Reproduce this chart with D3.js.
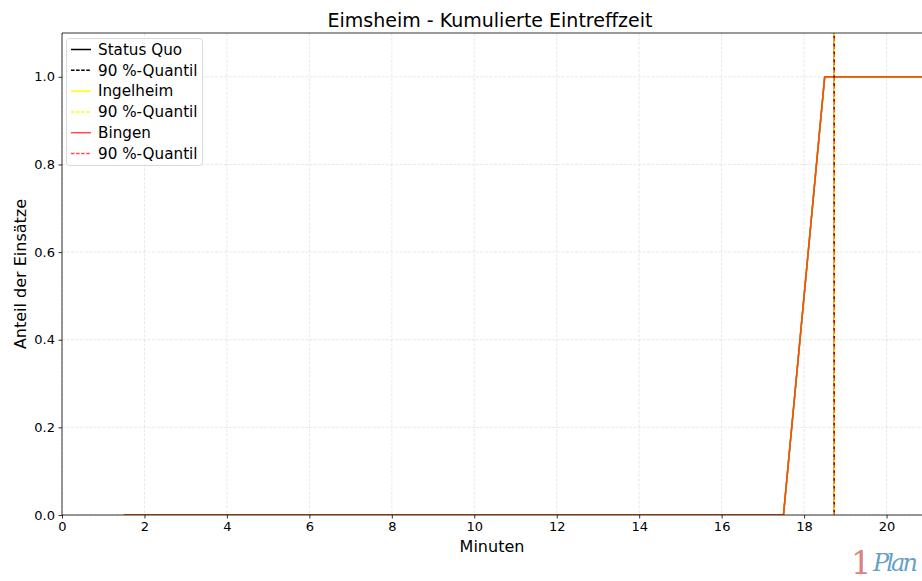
<!DOCTYPE html>
<html><head><meta charset="utf-8">
<script src="https://cdn.jsdelivr.net/npm/d3@7"></script>
<style>body{margin:0;background:#fff;} svg{display:block;font-family:"DejaVu Sans",sans-serif;}</style>
</head><body><svg id="c" width="922" height="581"></svg>
<script>
const xValues = [1.5,2.5,3.5,4.5,5.5,6.5,7.5,8.5,9.5,10.5,11.5,12.5,13.5,14.5,15.5,16.5,17.5,18.5,19.5,20.5,21.5];
const statusQuo = [0,0,0,0,0,0,0,0,0,0,0,0,0,0,0,0,0,1,1,1,1];
const ingelheim = [0,0,0,0,0,0,0,0,0,0,0,0,0,0,0,0,0,1,1,1,1];
const bingen    = [0,0,0,0,0,0,0,0,0,0,0,0,0,0,0,0,0,1,1,1,1];
const quantiles = [18.73, 18.73, 18.73];
const seriesNames = ["Status Quo","Ingelheim","Bingen"];
const xTicks = [0,2,4,6,8,10,12,14,16,18,20];
const yTicks = [0,0.2,0.4,0.6,0.8,1.0];

const svg = d3.select("#c");
const L=62, R=922, T=33, B=515;
const x = d3.scaleLinear().domain([0,20.86]).range([L,R]);
const y = d3.scaleLinear().domain([0,1.1]).range([B,T]);

svg.append("defs").append("clipPath").attr("id","clip").append("rect")
  .attr("x",L).attr("y",T).attr("width",R-L).attr("height",B-T);

// grid
const g = svg.append("g");
g.selectAll(".gx").data(xTicks).join("line")
  .attr("x1",d=>x(d)).attr("x2",d=>x(d)).attr("y1",T).attr("y2",B)
  .attr("stroke","#b0b0b0").attr("stroke-opacity",0.35).attr("stroke-width",0.8).attr("stroke-dasharray","3,1.5");
g.selectAll(".gy").data(yTicks).join("line")
  .attr("x1",L).attr("x2",R).attr("y1",d=>y(d)).attr("y2",d=>y(d))
  .attr("stroke","#b0b0b0").attr("stroke-opacity",0.35).attr("stroke-width",0.8).attr("stroke-dasharray","3,1.5");

const series = [
  {vals: statusQuo, color:"#000000", op:1},
  {vals: ingelheim, color:"#ffff00", op:1},
  {vals: bingen, color:"#ff0000", op:0.7}
];
const line = d3.line().x(d=>x(d[0])).y(d=>y(d[1]));
const plot = svg.append("g").attr("clip-path","url(#clip)");
series.forEach((s,i)=>{
  plot.append("path").datum(xValues.map((v,j)=>[v,s.vals[j]]))
    .attr("d",line).attr("fill","none").attr("stroke",s.color)
    .attr("stroke-opacity",s.op).attr("stroke-width",1.5);
});
series.forEach((s,i)=>{
  plot.append("line").attr("x1",x(quantiles[i])).attr("x2",x(quantiles[i]))
    .attr("y1",T).attr("y2",B).attr("stroke",s.color).attr("stroke-opacity",s.op)
    .attr("stroke-width",1.5).attr("stroke-dasharray","5.5,2.4").attr("stroke-dashoffset",i*2.6);
});

// axes
const xa = svg.append("g").attr("transform",`translate(0,${B})`)
  .call(d3.axisBottom(x).tickValues(xTicks).tickSize(3.5).tickPadding(3.5).tickFormat(d3.format("d")));
const ya = svg.append("g").attr("transform",`translate(${L},0)`)
  .call(d3.axisLeft(y).tickValues(yTicks).tickSize(3.5).tickPadding(3.5).tickFormat(d3.format(".1f")));
[xa,ya].forEach(a=>{
  a.select(".domain").remove();
  a.selectAll("text").attr("font-size",13).attr("fill","#000").attr("font-family","DejaVu Sans");
  a.selectAll("line").attr("stroke","#000").attr("stroke-width",0.8);
});
// spines
svg.append("line").attr("x1",L).attr("x2",L).attr("y1",T).attr("y2",B).attr("stroke","#000").attr("stroke-width",0.8);
svg.append("line").attr("x1",L).attr("x2",R).attr("y1",B).attr("y2",B).attr("stroke","#000").attr("stroke-width",0.8);
svg.append("line").attr("x1",L).attr("x2",R).attr("y1",T).attr("y2",T).attr("stroke","#000").attr("stroke-width",0.8);

// labels
svg.append("text").attr("x",(L+R)/2 - 2).attr("y",27).attr("text-anchor","middle")
  .attr("font-size",19).text("Eimsheim - Kumulierte Eintreffzeit");
svg.append("text").attr("x",492).attr("y",552).attr("text-anchor","middle")
  .attr("font-size",16).text("Minuten");
svg.append("text").attr("transform",`translate(26,${(T+B)/2}) rotate(-90)`).attr("text-anchor","middle")
  .attr("font-size",16).text("Anteil der Einsätze");

// legend
const lg = svg.append("g");
lg.append("rect").attr("x",66.5).attr("y",38.5).attr("width",136).attr("height",127).attr("rx",3)
  .attr("fill","#fff").attr("fill-opacity",0.8).attr("stroke","#d0d0d0").attr("stroke-width",0.8);
const items = [];
series.forEach((s,i)=>{
  items.push({label: seriesNames[i], color:s.color, op:s.op, dash:null});
  items.push({label: "90 %-Quantil", color:s.color, op:s.op, dash:"3.5,1.6"});
});
items.forEach((it,i)=>{
  const yy = 49.5 + i*20.8;
  lg.append("line").attr("x1",71).attr("x2",91).attr("y1",yy).attr("y2",yy)
    .attr("stroke",it.color).attr("stroke-opacity",it.op).attr("stroke-width",1.5)
    .attr("stroke-dasharray",it.dash);
  lg.append("text").attr("x",98).attr("y",yy+5.2).attr("font-size",15.2).text(it.label);
});

// logo
const logo = svg.append("g");
logo.append("text").attr("x",851).attr("y",574).attr("font-size",32)
  .attr("font-family","DejaVu Serif").attr("fill","#d9706a").attr("fill-opacity",0.9).text("1");
logo.append("text").attr("x",873).attr("y",571).attr("font-size",24).attr("font-style","italic")
  .attr("font-family","DejaVu Serif").attr("fill","#4f95bd").attr("fill-opacity",0.9).attr("textLength",45).text("Plan");
</script></body></html>
